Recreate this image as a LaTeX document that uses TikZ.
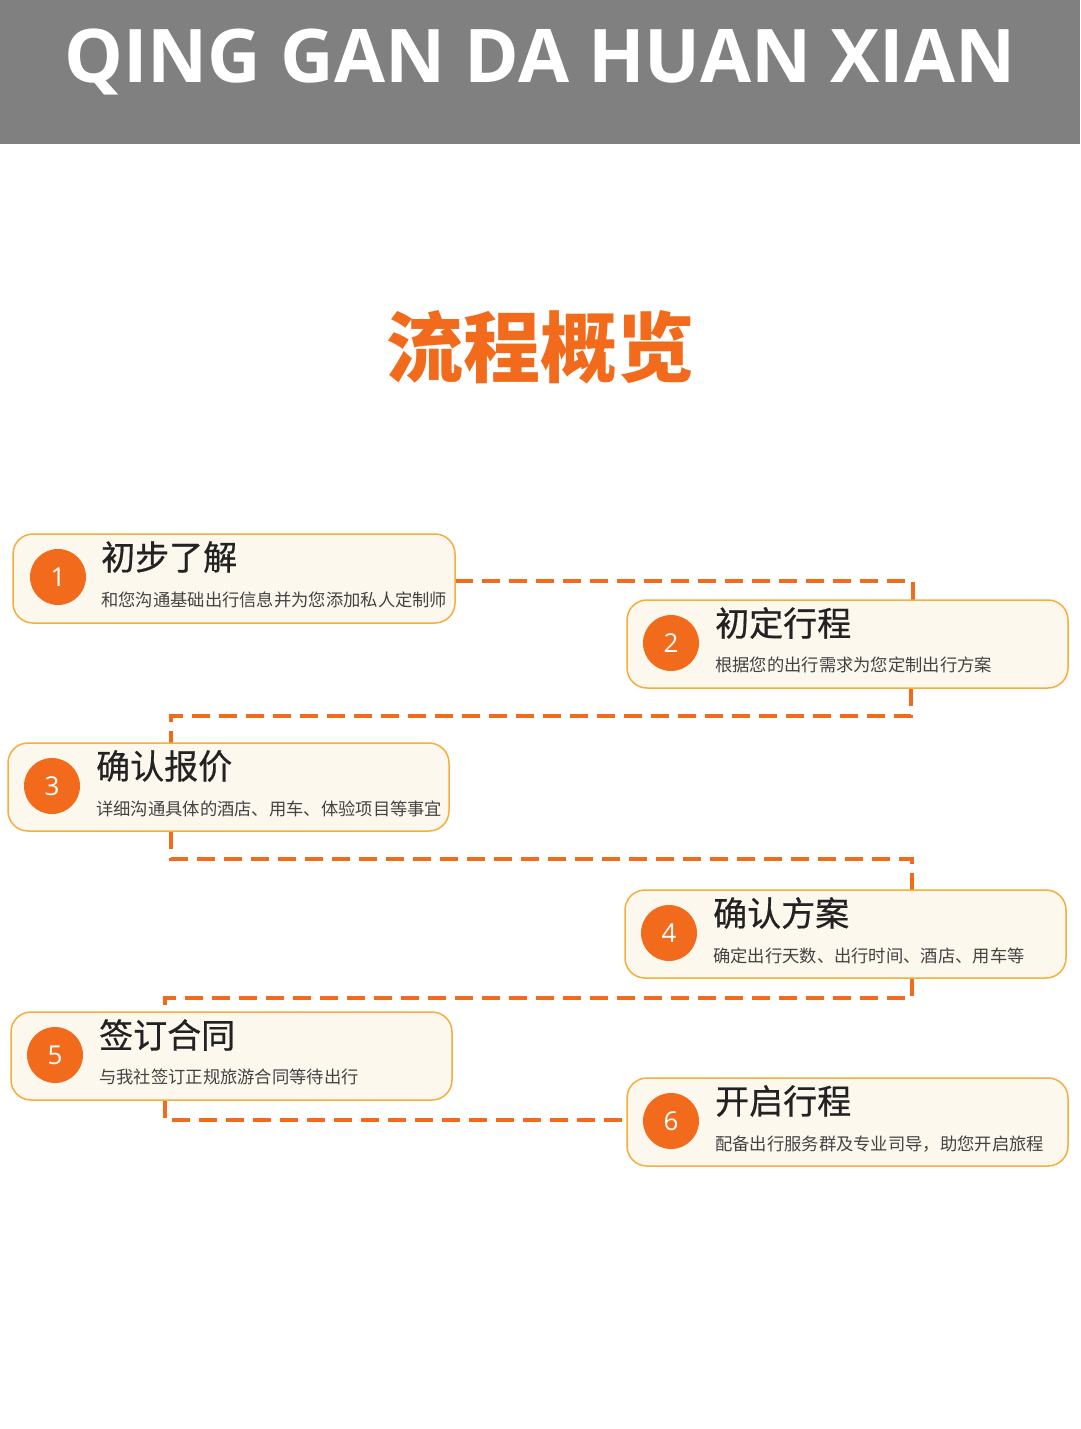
\documentclass[tikz,border=0pt]{standalone}
\usepackage{fontspec}
\setmainfont{Open Sans}
\newfontfamily\cjk{Noto Sans CJK SC}
\newfontfamily\cjkm[FakeBold=0.6]{Noto Sans CJK SC}
\newfontfamily\cjkb{Noto Sans CJK SC Black}
\newfontfamily\ttl{Open Sans Bold}
\definecolor{hdr}{HTML}{808080}
\definecolor{org}{HTML}{F26B1D}
\definecolor{lorg}{HTML}{F5AE3C}
\definecolor{cream}{HTML}{FDF8EE}
\definecolor{txt}{HTML}{222222}
\tikzset{x=1pt,y=-1pt,
 stepbox/.style={draw=lorg,line width=1.5pt,fill=cream,rounded corners=20pt},
 num/.style={circle,fill=org,minimum size=56pt,inner sep=0pt,text=white,font=\fontsize{26}{26}\selectfont},
 head/.style={anchor=west,inner sep=0pt,text=txt,font=\cjkm\fontsize{34}{34}\selectfont},
 sub/.style={anchor=west,inner sep=0pt,text=txt!85,font=\cjk\fontsize{17.3}{17.3}\selectfont},
 conn/.style={draw=org,line width=4.5pt,dash pattern=on 18pt off 9pt}}
\begin{document}
\begin{tikzpicture}
\useasboundingbox (0,0) rectangle (1080,1429);
\fill[white] (0,0) rectangle (1080,1429);
\fill[hdr] (0,0) rectangle (1080,144);
\node[text=white,font=\ttl\fontsize{74}{74}\selectfont] (title) at (540,62) {QING GAN DA HUAN XIAN};
\node[text=org,font=\cjkb\fontsize{77}{77}\selectfont,inner sep=0pt] (ov) at (540,347) {流程概览};
% connectors
\coordinate (c1a) at (455,581); \coordinate (c1b) at (913,581); \coordinate (c1c) at (913,600);
\coordinate (c2a) at (911,688); \coordinate (c2b) at (911,716); \coordinate (c2c) at (171,716); \coordinate (c2d) at (171,743);
\coordinate (c3a) at (171,831); \coordinate (c3b) at (171,859); \coordinate (c3c) at (912,859); \coordinate (c3d) at (912,890);
\coordinate (c4a) at (912,978); \coordinate (c4b) at (912,998); \coordinate (c4c) at (165,998); \coordinate (c4d) at (165,1012);
\coordinate (c5a) at (165,1100); \coordinate (c5b) at (165,1120); \coordinate (c5c) at (627,1120);
\draw[conn] (c1a) -- (c1b) -- (c1c);
\draw[conn] (c2a) -- (c2b) -- (c2c) -- (c2d);
\draw[conn] (c3a) -- (c3b) -- (c3c) -- (c3d);
\draw[conn] (c4a) -- (c4b) -- (c4c) -- (c4d);
\draw[conn] (c5a) -- (c5b) -- (c5c);
% boxes
\draw[stepbox] (13,534) rectangle (455,623);
\node[num] (n1) at (58,577) {1};
\node[head] (h1) at (101,557) {初步了解};
\node[sub] (s1) at (101,600) {和您沟通基础出行信息并为您添加私人定制师};
\draw[stepbox] (627,600) rectangle (1068,688);
\node[num] (n2) at (671,643) {2};
\node[head] (h2) at (715,623) {初定行程};
\node[sub] (s2) at (715,665) {根据您的出行需求为您定制出行方案};
\draw[stepbox] (8,743) rectangle (449,831);
\node[num] (n3) at (52,786) {3};
\node[head] (h3) at (96,766) {确认报价};
\node[sub] (s3) at (96,809) {详细沟通具体的酒店、用车、体验项目等事宜};
\draw[stepbox] (625,890) rectangle (1066,978);
\node[num] (n4) at (669,933) {4};
\node[head] (h4) at (713,913) {确认方案};
\node[sub] (s4) at (713,956) {确定出行天数、出行时间、酒店、用车等};
\draw[stepbox] (11,1012) rectangle (452,1100);
\node[num] (n5) at (55,1055) {5};
\node[head] (h5) at (99,1035) {签订合同};
\node[sub] (s5) at (99,1077) {与我社签订正规旅游合同等待出行};
\draw[stepbox] (627,1078) rectangle (1068,1166);
\node[num] (n6) at (671,1121) {6};
\node[head] (h6) at (715,1101) {开启行程};
\node[sub] (s6) at (715,1144) {配备出行服务群及专业司导，助您开启旅程};
\end{tikzpicture}
\end{document}
